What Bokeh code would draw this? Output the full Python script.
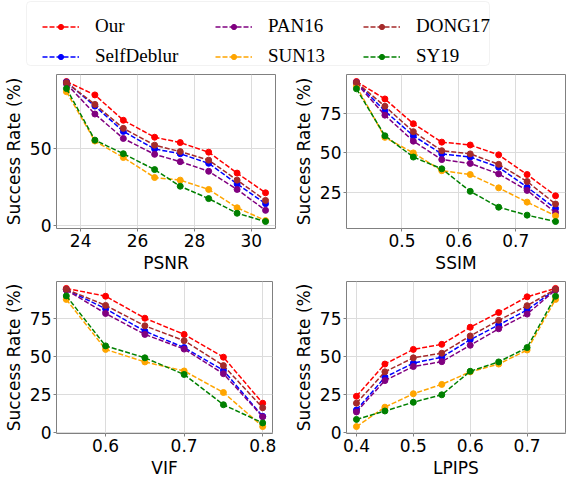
from bokeh.plotting import figure
from bokeh.layouts import column, row
from bokeh.models import Range1d, FixedTicker, Legend, LegendItem, BoxAnnotation, ColumnDataSource
from bokeh.core.properties import value
from bokeh.embed import file_html
from bokeh.resources import INLINE

names = ["Our", "SelfDeblur", "PAN16", "SUN13", "DONG17", "SY19"]
colors = ["red", "blue", "purple", "orange", "brown", "green"]

# PSNR panel
psnr_x = [23.5, 24.5, 25.5, 26.6, 27.5, 28.5, 29.5, 30.5]
psnr_our = [94.2, 85.4, 68.8, 57.7, 54.2, 47.9, 34.2, 21.3]
psnr_selfdeblur = [93.8, 78.1, 61.5, 50.0, 46.9, 40.6, 27.1, 14.2]
psnr_pan16 = [92.7, 72.9, 56.9, 46.5, 41.7, 35.4, 23.5, 9.8]
psnr_sun13 = [87.5, 55.2, 44.4, 31.3, 29.6, 23.5, 11.5, 3.1]
psnr_dong17 = [93.5, 79.2, 63.5, 52.5, 48.3, 42.7, 29.6, 16.3]
psnr_sy19 = [89.6, 55.8, 46.9, 36.5, 25.6, 17.5, 7.9, 2.5]
psnr_xticks = [24, 26, 28, 30]
psnr_yticks = [0, 50]

# SSIM panel
ssim_x = [0.42, 0.47, 0.52, 0.57, 0.62, 0.67, 0.72, 0.77]
ssim_our = [95.0, 84.0, 68.4, 56.8, 55.0, 48.8, 36.4, 23.0]
ssim_selfdeblur = [94.4, 76.4, 60.8, 49.4, 47.4, 41.0, 28.4, 15.0]
ssim_pan16 = [93.8, 73.8, 57.4, 45.8, 43.4, 36.8, 26.4, 12.4]
ssim_sun13 = [92.0, 59.8, 50.0, 38.8, 36.4, 28.0, 19.0, 10.4]
ssim_dong17 = [94.4, 79.4, 63.4, 51.4, 49.4, 42.8, 32.0, 17.8]
ssim_sy19 = [90.4, 60.8, 47.4, 40.0, 25.8, 15.8, 10.8, 6.8]
ssim_xticks = [0.5, 0.6, 0.7]
ssim_yticks = [25, 50, 75]

# VIF panel
vif_x = [0.55, 0.6, 0.65, 0.7, 0.75, 0.8]
vif_our = [94.5, 89.4, 75.0, 64.4, 49.5, 19.4]
vif_selfdeblur = [93.7, 81.2, 66.5, 55.8, 40.9, 10.8]
vif_pan16 = [93.5, 78.1, 64.4, 54.8, 38.7, 10.5]
vif_sun13 = [87.3, 54.6, 46.4, 40.5, 26.4, 4.1]
vif_dong17 = [93.9, 83.4, 70.0, 60.3, 44.0, 16.4]
vif_sy19 = [89.6, 56.9, 49.1, 38.2, 18.4, 6.5]
vif_xticks = [0.6, 0.7, 0.8]
vif_yticks = [0, 25, 50, 75]

# LPIPS panel
lpips_x = [0.4, 0.45, 0.5, 0.55, 0.6, 0.65, 0.7, 0.75]
lpips_our = [23.9, 45.0, 54.6, 57.9, 69.1, 78.7, 89.0, 94.5]
lpips_selfdeblur = [14.9, 36.4, 45.6, 49.5, 60.9, 70.6, 80.4, 93.7]
lpips_pan16 = [13.7, 34.2, 43.4, 46.6, 57.3, 68.1, 77.7, 93.5]
lpips_sun13 = [4.1, 16.8, 25.6, 31.7, 39.9, 45.0, 54.2, 87.3]
lpips_dong17 = [19.4, 39.9, 49.1, 52.1, 63.4, 73.6, 83.2, 93.9]
lpips_sy19 = [8.8, 14.3, 20.0, 24.9, 40.3, 46.4, 55.8, 89.4]
lpips_xticks = [0.4, 0.5, 0.6, 0.7]
lpips_yticks = [0, 25, 50, 75]

FRAME = "#808080"
GRID = "#dcdcdc"
DASH = "5 2"


def make_panel(xs, series, xticks, yticks, xlabel, w, h, left, right, top, bottom):
    ymin = min(min(s) for s in series)
    ymax = max(max(s) for s in series)
    ypad = 0.05 * (ymax - ymin)
    xpad = 0.05 * (max(xs) - min(xs))
    p = figure(width=w, height=h, output_backend="svg", toolbar_location=None,
               x_range=Range1d(min(xs) - xpad, max(xs) + xpad),
               y_range=Range1d(ymin - ypad, ymax + ypad),
               min_border_left=left, min_border_right=right,
               min_border_top=top, min_border_bottom=bottom)
    for name, color, ys in zip(names, colors, series):
        src = ColumnDataSource(dict(x=xs, y=ys))
        p.line("x", "y", source=src, line_color=color, line_width=1.5, line_dash=DASH)
        p.scatter("x", "y", source=src, fill_color=color, line_color=color, size=6)
    xt = FixedTicker(ticks=xticks)
    yt = FixedTicker(ticks=yticks)
    p.xaxis.ticker = xt
    p.yaxis.ticker = yt
    p.xgrid.ticker = xt
    p.ygrid.ticker = yt
    p.grid.grid_line_color = GRID
    p.grid.grid_line_width = 1
    p.xaxis.axis_label = xlabel
    p.yaxis.axis_label = "Success Rate (%)"
    for ax in p.axis:
        ax.axis_line_color = None
        ax.major_tick_out = 3
        ax.major_tick_in = 0
        ax.major_tick_line_color = FRAME
        ax.minor_tick_line_color = None
        ax.major_label_text_font = "DejaVu Sans"
        ax.major_label_text_font_size = "17px"
        ax.major_label_text_color = "black"
        ax.major_label_standoff = 2
        ax.axis_label_text_font = "DejaVu Sans"
        ax.axis_label_text_font_size = "17px"
        ax.axis_label_text_font_style = "normal"
        ax.axis_label_text_color = "black"
        ax.axis_label_standoff = 3
    p.outline_line_color = FRAME
    p.outline_line_width = 1
    p.background_fill_color = "white"
    p.border_fill_color = "white"
    return p


p1 = make_panel(psnr_x, [psnr_our, psnr_selfdeblur, psnr_pan16, psnr_sun13, psnr_dong17, psnr_sy19],
                psnr_xticks, psnr_yticks, "PSNR", 290, 205, 49, 15, 4, 47)
p2 = make_panel(ssim_x, [ssim_our, ssim_selfdeblur, ssim_pan16, ssim_sun13, ssim_dong17, ssim_sy19],
                ssim_xticks, ssim_yticks, "SSIM", 276, 205, 49, 1, 4, 47)
p3 = make_panel(vif_x, [vif_our, vif_selfdeblur, vif_pan16, vif_sun13, vif_dong17, vif_sy19],
                vif_xticks, vif_yticks, "VIF", 290, 205, 49, 18, 6, 46)
p4 = make_panel(lpips_x, [lpips_our, lpips_selfdeblur, lpips_pan16, lpips_sun13, lpips_dong17, lpips_sy19],
                lpips_xticks, lpips_yticks, "LPIPS", 276, 205, 48, 1, 6, 46)

# legend strip
lf = figure(width=566, height=70, output_backend="svg", toolbar_location=None,
            x_range=Range1d(0, 566), y_range=Range1d(70, 0),
            x_axis_type=None, y_axis_type=None, min_border=0)
lf.outline_line_color = None
lf.background_fill_color = "white"
lf.border_fill_color = "white"
nan = float("nan")
lines, pts = [], []
for name, color in zip(names, colors):
    src = ColumnDataSource(dict(x=[nan], y=[nan]))
    lines.append(lf.line("x", "y", source=src, line_color=color, line_width=1.5, line_dash=DASH))
    pts.append(lf.scatter("x", "y", source=src, fill_color=color, line_color=color, size=5))

lf.add_layout(BoxAnnotation(left=26, right=489, top=1, bottom=65, fill_alpha=0,
                            line_color="#d4d4d4", line_width=1, border_radius=4))
legend_x = [42, 215, 363]
for ci in range(3):
    items = [LegendItem(label=value(names[k]), renderers=[lines[k], pts[k]]) for k in (2 * ci, 2 * ci + 1)]
    leg = Legend(items=items, location=(legend_x[ci], 3), orientation="vertical",
                 glyph_width=37, glyph_height=13, label_height=21, label_standoff=16,
                 spacing=8, padding=0, margin=0, border_line_color=None,
                 background_fill_alpha=0, label_text_font="Liberation Serif",
                 label_text_font_size="19px", label_text_color="black")
    lf.add_layout(leg)

layout = column(lf, row(p1, p2), row(p3, p4))
open("out.html", "w").write(file_html(layout, INLINE))
